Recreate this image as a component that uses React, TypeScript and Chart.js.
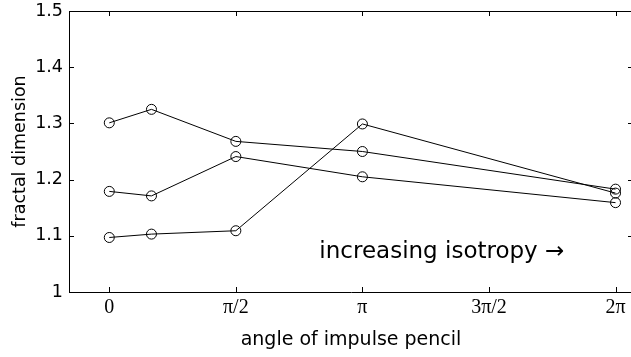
import React, { useEffect, useRef } from 'react';
import { Chart, registerables } from 'chart.js';

Chart.register(...registerables);

// ---- data ----
const xValues = [0, Math.PI / 6, Math.PI / 2, Math.PI, 2 * Math.PI];
const seriesA = [1.301, 1.325, 1.268, 1.25, 1.183];
const seriesB = [1.179, 1.171, 1.241, 1.205, 1.159];
const seriesC = [1.097, 1.103, 1.109, 1.299, 1.176];

const xTickValues = [0, Math.PI / 2, Math.PI, 1.5 * Math.PI, 2 * Math.PI];
const xTickLabels = ['0', 'π/2', 'π', '3π/2', '2π'];
const yTickValues = [1, 1.1, 1.2, 1.3, 1.4, 1.5];
const yTickLabels = ['1', '1.1', '1.2', '1.3', '1.4', '1.5'];

const xTitle = 'angle of impulse pencil';
const yTitle = 'fractal dimension';
const annotationText = 'increasing isotropy →';
const annotationX = 2.607;
const annotationY = 1.06;

const xMin = -0.5;
const xMax = 6.5;
const yMin = 1;
const yMax = 1.5;

const SANS = '"DejaVu Sans", sans-serif';
const SERIF = '"Liberation Serif", serif';

const framePlugin = {
  id: 'frame',
  afterDatasetsDraw(chart: any) {
    const { ctx, chartArea, scales } = chart;
    const { left, right, top, bottom } = chartArea;
    const x = scales.x;
    const y = scales.y;
    const T = 5;
    const al = (v: number) => Math.round(v) + 0.5;
    ctx.save();
    ctx.strokeStyle = '#000';
    ctx.lineWidth = 1;
    ctx.beginPath();
    ctx.moveTo(left, al(top));
    ctx.lineTo(right, al(top));
    ctx.moveTo(al(right), top);
    ctx.lineTo(al(right), bottom);
    xTickValues.forEach((v) => {
      const p = al(x.getPixelForValue(v));
      ctx.moveTo(p, bottom);
      ctx.lineTo(p, bottom - T);
      ctx.moveTo(p, top);
      ctx.lineTo(p, top + T);
    });
    yTickValues.forEach((v) => {
      const p = al(y.getPixelForValue(v));
      ctx.moveTo(left, p);
      ctx.lineTo(left + T, p);
      ctx.moveTo(right, p);
      ctx.lineTo(right - T, p);
    });
    ctx.stroke();
    ctx.font = '23px ' + SANS;
    ctx.fillStyle = '#000';
    ctx.textAlign = 'left';
    ctx.textBaseline = 'alphabetic';
    ctx.fillText(annotationText, x.getPixelForValue(annotationX), y.getPixelForValue(annotationY));
    ctx.restore();
  },
};

function makeSeries(values: number[]) {
  return values.map((v, i) => ({ x: xValues[i], y: v }));
}

export default function App() {
  const canvasRef = useRef<HTMLCanvasElement | null>(null);

  useEffect(() => {
    const canvas = canvasRef.current;
    if (!canvas) return;
    const ds = (vals: number[]) => ({
      data: makeSeries(vals),
      showLine: true,
      borderColor: '#000',
      borderWidth: 1,
      backgroundColor: 'transparent',
      pointStyle: 'circle',
      pointRadius: 5,
      pointBorderColor: '#000',
      pointBackgroundColor: 'transparent',
      pointBorderWidth: 1,
      tension: 0,
    });
    const chart = new Chart(canvas, {
      type: 'scatter',
      data: { datasets: [ds(seriesA), ds(seriesB), ds(seriesC)] },
      options: {
        responsive: false,
        animation: false,
        devicePixelRatio: 1,
        layout: { autoPadding: false, padding: { top: 11, right: 1, left: 0, bottom: 0 } },
        plugins: { legend: { display: false }, tooltip: { enabled: false } },
        scales: {
          x: {
            type: 'linear',
            min: xMin,
            max: xMax,
            grid: { display: false, drawTicks: false },
            border: { display: true, color: '#000', width: 1 },
            afterBuildTicks: (scale: any) => {
              scale.ticks = xTickValues.map((v) => ({ value: v }));
            },
            afterFit: (scale: any) => {
              scale.height = 65;
              scale.paddingLeft = 0;
              scale.paddingRight = 0;
            },
            ticks: {
              autoSkip: false,
              maxRotation: 0,
              minRotation: 0,
              padding: 4,
              color: '#000',
              font: { family: SERIF, size: 20 },
              callback: (_v: any, i: number) => xTickLabels[i],
            },
            title: {
              display: true,
              text: xTitle,
              color: '#000',
              font: { family: SANS, size: 19 },
              padding: { top: 0, bottom: 6 },
            },
          },
          y: {
            type: 'linear',
            min: yMin,
            max: yMax,
            grid: { display: false, drawTicks: false },
            border: { display: true, color: '#000', width: 1 },
            afterBuildTicks: (scale: any) => {
              scale.ticks = yTickValues.map((v) => ({ value: v }));
            },
            afterFit: (scale: any) => {
              scale.width = 69;
              scale.paddingTop = 0;
              scale.paddingBottom = 0;
            },
            ticks: {
              padding: 6,
              color: '#000',
              font: { family: SANS, size: 17.5 },
              callback: (_v: any, i: number) => yTickLabels[i],
            },
            title: {
              display: true,
              text: yTitle,
              color: '#000',
              font: { family: SANS, size: 17.5 },
              padding: { top: 10, bottom: 0 },
            },
          },
        },
      } as any,
      plugins: [framePlugin],
    });
    return () => chart.destroy();
  }, []);

  return (
    <div
      style={{
        position: 'fixed',
        left: 0,
        top: 0,
        width: 631,
        height: 357,
        overflow: 'hidden',
        background: '#fff',
      }}
    >
      <canvas ref={canvasRef} width={634} height={357} style={{ width: 634, height: 357, display: 'block' }} />
    </div>
  );
}
